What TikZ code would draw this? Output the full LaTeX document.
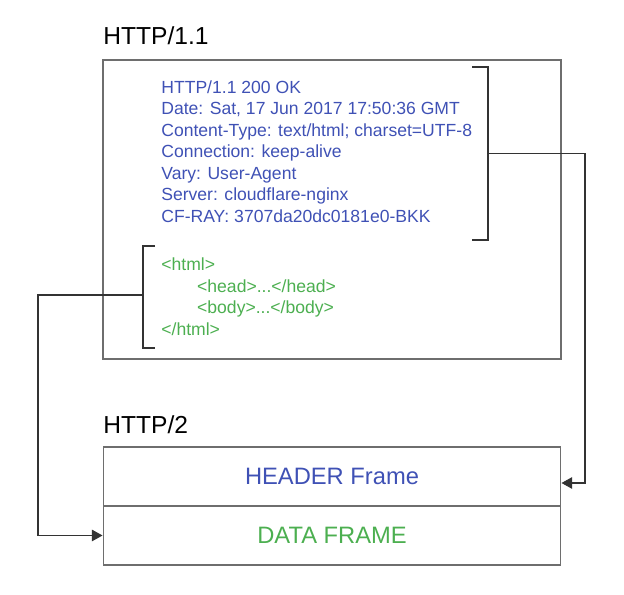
\documentclass[tikz,border=0pt]{standalone}
\usepackage{fontspec}
\setmainfont{Liberation Sans}
\usetikzlibrary{arrows.meta}
\usetikzlibrary{calc}
\usetikzlibrary{positioning}

\definecolor{hdrblue}{HTML}{3F51B5}
\definecolor{datagreen}{HTML}{4CAF50}
\definecolor{edgegray}{HTML}{6E6E6E}
\definecolor{linkgray}{HTML}{333333}

\tikzset{
    title/.style={inner sep=0, anchor=base west, font=\fontsize{14}{16}\selectfont},
    msgtext/.style={inner sep=0, anchor=base west, align=left, font=\fontsize{10}{12.2}\selectfont},
    frame/.style={draw=edgegray, line width=0.6pt, minimum width=9.16cm, minimum height=1.18cm, inner sep=0, font=\fontsize{13.5}{16}\selectfont},
    bracket/.style={draw=linkgray, line width=0.6pt},
    link/.style={draw=linkgray, line width=0.6pt, -{Triangle[length=6pt,width=6.5pt]}}
}

\begin{document}
\begin{tikzpicture}[x=0.02cm, y=-0.02cm]
        %% picture size
        \useasboundingbox (0,0) rectangle (624,594);

        %% titles
        \node[title] (titleone) at (103,45) {HTTP/1.1};
        \node[title] (titletwo) at (103,433) {HTTP/2};

        %% HTTP/1.1 message (anchored at last baseline)
        \draw[edgegray, line width=0.6pt] (103,60) rectangle (561,359);
        \node[msgtext, text=hdrblue] (hdrlines) at (161,222) {HTTP/1.1 200 OK\\
            Date: Sat, 17 Jun 2017 17:50:36 GMT\\
            Content-Type: text/html; charset=UTF-8\\
            Connection: keep-alive\\
            Vary: User-Agent\\
            Server: cloudflare-nginx\\
            CF-RAY: 3707da20dc0181e0-BKK};
        \node[msgtext, text=datagreen] (bodylines) at (161,335) {<html>\\
            \hspace*{20.4pt}<head>...</head>\\
            \hspace*{20.4pt}<body>...</body>\\
            </html>};

        %% brackets
        \draw[bracket] (472,67) -- (488,67) -- (488,240) -- (472,240);
        \draw[bracket] (155,246) -- (143,246) -- (143,348) -- (155,348);
        \coordinate (hdrmid) at (488,153.5);
        \coordinate (bodymid) at (143,295);

        %% HTTP/2 frames
        \node[frame, text=hdrblue] (hdrframe) at (332,476.5) {HEADER Frame};
        \node[frame, text=datagreen, below=-0.6pt of hdrframe] (dataframe) {DATA FRAME};
        \coordinate (hdrin) at ($(hdrframe.east)+(0,6.5)$);

        %% connectors
        \draw[link] (hdrmid) -- (585,153.5) |- (hdrin);
        \draw[link] (bodymid) -- (38,295) |- (dataframe.west);
    \end{tikzpicture}
\end{document}
